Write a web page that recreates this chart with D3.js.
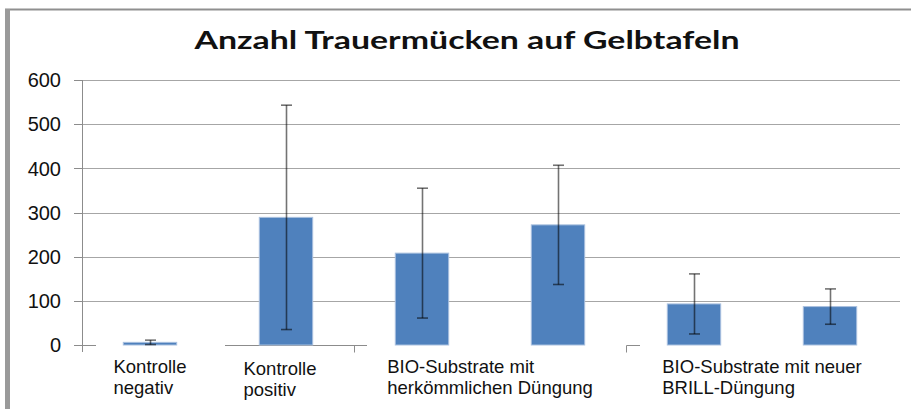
<!DOCTYPE html>
<meta charset="utf-8">
<style>
  body { margin: 0; background: #fff; }
  svg { display: block; }
  .grid line { stroke: #a6a6a6; stroke-width: 1; }
  .axisline { stroke: #8c8c8c; stroke-width: 1; fill: none; }
  .bar { fill: #4f81bd; stroke: #a9c0df; stroke-width: 1; }
  .err { stroke: #000; stroke-opacity: 0.55; stroke-width: 1.6; }
  .ylab { font-family: "Liberation Sans", Arial, sans-serif; font-size: 20px; fill: #111; }
  .xlab { font-family: "Liberation Sans", Arial, sans-serif; font-size: 18.5px; fill: #111; }
  .title { font-family: Lato, "Open Sans", sans-serif; font-weight: 700; font-size: 25px; fill: #111; }
</style>
<body>
<svg width="911" height="409"></svg>
<script src="https://cdn.jsdelivr.net/npm/d3@7"></script>
<script>
  // bars, left to right
  const barNames = ["neg", "pos", "herk1", "herk2", "brill1", "brill2"];
  const means = [6, 289, 208, 272, 93, 87];
  const errors = [5, 254, 147, 135, 68, 40];

  // category labels under the bars, and which bars each spans
  const groupLabels = [
    ["Kontrolle", "negativ"],
    ["Kontrolle", "positiv"],
    ["BIO-Substrate mit", "herkömmlichen Düngung"],
    ["BIO-Substrate mit neuer", "BRILL-Düngung"]
  ];
  const groupBars = [["neg"], ["pos"], ["herk1", "herk2"], ["brill1", "brill2"]];

  const yTicks = [0, 100, 200, 300, 400, 500, 600];
  const title = "Anzahl Trauermücken auf Gelbtafeln";

  const svg = d3.select("svg");
  const plotLeft = 82, plotRight = 898, plotTop = 80, plotBottom = 345;

  // frame of the pasted chart
  svg.append("line").attr("x1", 5).attr("x2", 911).attr("y1", 9.5).attr("y2", 9.5)
      .attr("stroke", "#8f8f8f").attr("stroke-width", 2);
  svg.append("line").attr("x1", 7.5).attr("x2", 7.5).attr("y1", 9).attr("y2", 409)
      .attr("stroke", "#9a9a9a").attr("stroke-width", 5);

  const x = d3.scaleBand().domain(barNames).range([plotLeft, plotRight])
      .paddingInner(0.6).paddingOuter(0.3);
  const y = d3.scaleLinear().domain([0, 600]).range([plotBottom, plotTop]);
  const step = x.step();
  const boundary = i => plotLeft + i * step;

  svg.append("text").attr("class", "title")
      .attr("x", 467).attr("y", 49).attr("text-anchor", "middle")
      .attr("textLength", 545).attr("lengthAdjust", "spacingAndGlyphs")
      .text(title);

  // gridlines
  svg.append("g").attr("class", "grid")
    .selectAll("line").data(yTicks.filter(d => d > 0)).enter().append("line")
      .attr("x1", plotLeft).attr("x2", 900)
      .attr("y1", d => Math.round(y(d)) + 0.5).attr("y2", d => Math.round(y(d)) + 0.5);

  // y axis: line, ticks, labels
  svg.append("line").attr("class", "axisline")
      .attr("x1", plotLeft + 0.5).attr("x2", plotLeft + 0.5)
      .attr("y1", plotTop).attr("y2", plotBottom + 7);
  svg.selectAll(".ytick").data(yTicks).enter().append("line")
      .attr("class", "axisline ytick")
      .attr("x1", plotLeft - 8).attr("x2", plotLeft)
      .attr("y1", d => Math.round(y(d)) + 0.5).attr("y2", d => Math.round(y(d)) + 0.5);
  svg.selectAll(".ylab").data(yTicks).enter().append("text")
      .attr("class", "ylab")
      .attr("x", 61).attr("y", d => y(d)).attr("dy", "0.36em")
      .attr("text-anchor", "end")
      .text(d => d);

  // broken x axis pieces, as in the original
  const xb = plotBottom + 0.5;
  const xPath = d3.path();
  xPath.moveTo(plotLeft - 8, xb); xPath.lineTo(plotLeft + 14, xb);
  xPath.moveTo(boundary(1) + 7, xb); xPath.lineTo(boundary(2) + 13, xb);
  xPath.moveTo(boundary(2) + 0.5, xb); xPath.lineTo(boundary(2) + 0.5, xb + 7);
  xPath.moveTo(boundary(4) + 0.5, xb + 7); xPath.lineTo(boundary(4) + 0.5, xb);
  xPath.lineTo(boundary(4) + 14, xb);
  svg.append("path").attr("class", "axisline").attr("d", xPath.toString());

  const data = barNames.map((n, i) => ({ name: n, mean: means[i], err: errors[i] }));

  svg.selectAll(".bar").data(data).enter().append("rect")
      .attr("class", "bar")
      .attr("x", d => x(d.name) + 0.5)
      .attr("width", x.bandwidth() - 1)
      .attr("y", d => y(d.mean))
      .attr("height", d => plotBottom - y(d.mean));

  // error bars
  const eb = svg.selectAll(".eb").data(data).enter().append("g").attr("class", "eb");
  const cx = d => Math.round(x(d.name) + x.bandwidth() / 2) + 0.5;
  const hi = d => y(d.mean + d.err);
  const lo = d => y(Math.max(0, d.mean - d.err));
  eb.append("line").attr("class", "err")
      .attr("x1", cx).attr("x2", cx).attr("y1", hi).attr("y2", lo);
  eb.append("line").attr("class", "err")
      .attr("x1", d => cx(d) - 5.5).attr("x2", d => cx(d) + 5.5).attr("y1", hi).attr("y2", hi);
  eb.append("line").attr("class", "err")
      .attr("x1", d => cx(d) - 5.5).attr("x2", d => cx(d) + 5.5).attr("y1", lo).attr("y2", lo);

  // category labels: left-aligned blocks centred under their bars
  // (the second one sits a little left and lower in the original)
  groupLabels.forEach((lines, i) => {
    const bars = groupBars[i];
    const c0 = x(bars[0]) + x.bandwidth() / 2;
    const c1 = x(bars[bars.length - 1]) + x.bandwidth() / 2;
    const mid = (c0 + c1) / 2;
    const nudge = i === 1 ? [-6, 2] : [0, 0];
    const t = svg.append("text").attr("class", "xlab");
    lines.forEach((s, j) => t.append("tspan").attr("x", 0).attr("y", 373 + j * 21).text(s));
    const w = t.node().getBBox().width;
    t.attr("transform", `translate(${mid - w / 2 + nudge[0]},${nudge[1]})`);
  });
</script>
</body>
